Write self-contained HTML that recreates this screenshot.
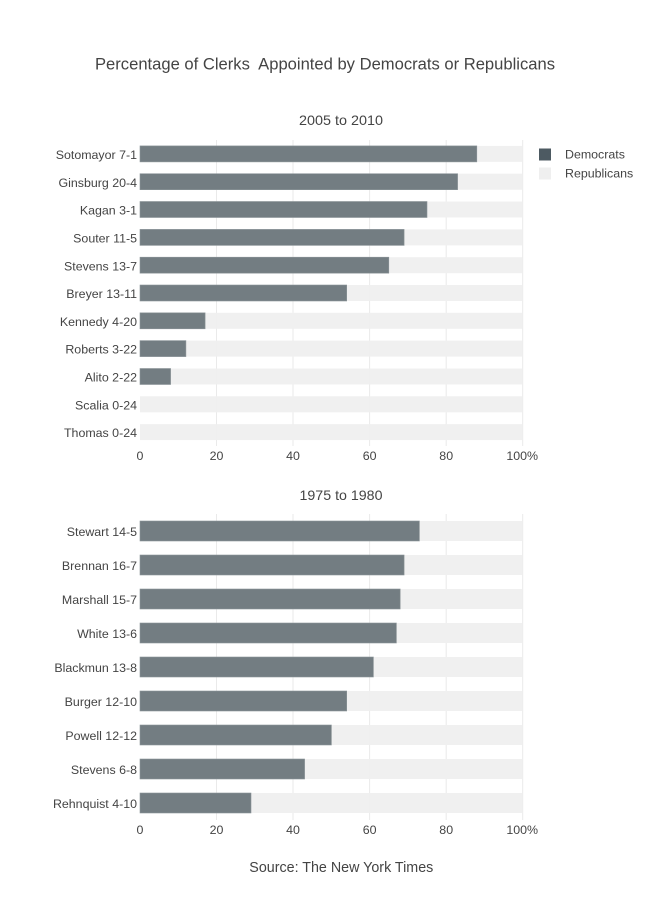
<!DOCTYPE html>
<html><head><meta charset="utf-8"><style>
html,body{margin:0;padding:0;background:#fff;}
svg{display:block;}
text{font-family:"Liberation Sans",sans-serif;fill:#444;}
</style></head><body>
<svg width="650" height="900" viewBox="0 0 650 900" xmlns="http://www.w3.org/2000/svg">
<rect width="650" height="900" fill="#fff"/>
<text x="325" y="69.5" font-size="17" text-anchor="middle" textLength="460" lengthAdjust="spacingAndGlyphs">Percentage of Clerks&#160; Appointed by Democrats or Republicans</text>

<!-- TOP -->
<text x="341" y="125" font-size="14" text-anchor="middle" textLength="84" lengthAdjust="spacingAndGlyphs">2005 to 2010</text>
<g stroke="#eaeaea" stroke-width="1">
<line x1="216.5" y1="140" x2="216.5" y2="446"/>
<line x1="293" y1="140" x2="293" y2="446"/>
<line x1="369.6" y1="140" x2="369.6" y2="446"/>
<line x1="446.2" y1="140" x2="446.2" y2="446"/>
<line x1="522.7" y1="140" x2="522.7" y2="446"/>
</g>
<g fill="#efefef" fill-opacity="0.93">
<rect x="140" y="145.9" width="382.7" height="16"/>
<rect x="140" y="173.7" width="382.7" height="16"/>
<rect x="140" y="201.5" width="382.7" height="16"/>
<rect x="140" y="229.4" width="382.7" height="16"/>
<rect x="140" y="257.2" width="382.7" height="16"/>
<rect x="140" y="285.0" width="382.7" height="16"/>
<rect x="140" y="312.8" width="382.7" height="16"/>
<rect x="140" y="340.6" width="382.7" height="16"/>
<rect x="140" y="368.5" width="382.7" height="16"/>
<rect x="140" y="396.3" width="382.7" height="16"/>
<rect x="140" y="424.1" width="382.7" height="16"/>
</g>
<g fill="#737d82" stroke="#8c9599" stroke-width="0.6">
<rect x="140" y="145.9" width="336.8" height="16"/>
<rect x="140" y="173.7" width="317.6" height="16"/>
<rect x="140" y="201.5" width="287.0" height="16"/>
<rect x="140" y="229.4" width="264.1" height="16"/>
<rect x="140" y="257.2" width="248.8" height="16"/>
<rect x="140" y="285.0" width="206.7" height="16"/>
<rect x="140" y="312.8" width="65.1" height="16"/>
<rect x="140" y="340.6" width="45.9" height="16"/>
<rect x="140" y="368.5" width="30.6" height="16"/>
</g>
<g font-size="12.4" text-anchor="end">
<text x="137" y="159">Sotomayor 7-1</text>
<text x="137" y="186.8">Ginsburg 20-4</text>
<text x="137" y="214.6">Kagan 3-1</text>
<text x="137" y="242.5">Souter 11-5</text>
<text x="137" y="270.3">Stevens 13-7</text>
<text x="137" y="298.1">Breyer 13-11</text>
<text x="137" y="325.9">Kennedy 4-20</text>
<text x="137" y="353.7">Roberts 3-22</text>
<text x="137" y="381.6">Alito 2-22</text>
<text x="137" y="409.4">Scalia 0-24</text>
<text x="137" y="437.2">Thomas 0-24</text>
</g>
<g font-size="12.4" text-anchor="middle">
<text x="140" y="460">0</text>
<text x="216.5" y="460">20</text>
<text x="293" y="460">40</text>
<text x="369.6" y="460">60</text>
<text x="446.2" y="460">80</text>
<text x="522.2" y="460">100%</text>
</g>

<!-- LEGEND -->
<rect x="539" y="148.5" width="12" height="12" fill="#4d5a62"/>
<rect x="539" y="167.5" width="12" height="12" fill="#efefef"/>
<text x="565" y="158.5" font-size="12.4">Democrats</text>
<text x="565" y="177.5" font-size="12.4">Republicans</text>

<!-- BOTTOM -->
<text x="341" y="500" font-size="14" text-anchor="middle" textLength="83" lengthAdjust="spacingAndGlyphs">1975 to 1980</text>
<g stroke="#eaeaea" stroke-width="1">
<line x1="216.5" y1="514" x2="216.5" y2="820"/>
<line x1="293" y1="514" x2="293" y2="820"/>
<line x1="369.6" y1="514" x2="369.6" y2="820"/>
<line x1="446.2" y1="514" x2="446.2" y2="820"/>
<line x1="522.7" y1="514" x2="522.7" y2="820"/>
</g>
<g fill="#efefef" fill-opacity="0.93">
<rect x="140" y="521" width="382.7" height="20"/>
<rect x="140" y="555" width="382.7" height="20"/>
<rect x="140" y="589" width="382.7" height="20"/>
<rect x="140" y="623" width="382.7" height="20"/>
<rect x="140" y="657" width="382.7" height="20"/>
<rect x="140" y="691" width="382.7" height="20"/>
<rect x="140" y="725" width="382.7" height="20"/>
<rect x="140" y="759" width="382.7" height="20"/>
<rect x="140" y="793" width="382.7" height="20"/>
</g>
<g fill="#737d82" stroke="#8c9599" stroke-width="0.6">
<rect x="140" y="521" width="279.4" height="20"/>
<rect x="140" y="555" width="264.1" height="20"/>
<rect x="140" y="589" width="260.2" height="20"/>
<rect x="140" y="623" width="256.4" height="20"/>
<rect x="140" y="657" width="233.4" height="20"/>
<rect x="140" y="691" width="206.7" height="20"/>
<rect x="140" y="725" width="191.4" height="20"/>
<rect x="140" y="759" width="164.6" height="20"/>
<rect x="140" y="793" width="111.0" height="20"/>
</g>
<g font-size="12.4" text-anchor="end">
<text x="137" y="536">Stewart 14-5</text>
<text x="137" y="570">Brennan 16-7</text>
<text x="137" y="604">Marshall 15-7</text>
<text x="137" y="638">White 13-6</text>
<text x="137" y="672">Blackmun 13-8</text>
<text x="137" y="706">Burger 12-10</text>
<text x="137" y="740">Powell 12-12</text>
<text x="137" y="774">Stevens 6-8</text>
<text x="137" y="808">Rehnquist 4-10</text>
</g>
<g font-size="12.4" text-anchor="middle">
<text x="140" y="834">0</text>
<text x="216.5" y="834">20</text>
<text x="293" y="834">40</text>
<text x="369.6" y="834">60</text>
<text x="446.2" y="834">80</text>
<text x="522.2" y="834">100%</text>
</g>

<text x="341.3" y="872" font-size="14.5" text-anchor="middle" textLength="184" lengthAdjust="spacingAndGlyphs">Source: The New York Times</text>
</svg>
</body></html>
